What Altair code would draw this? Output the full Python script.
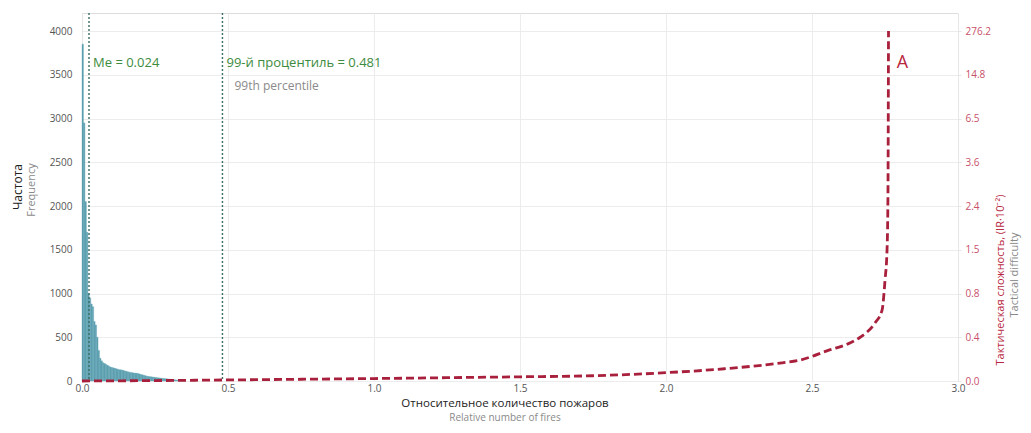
import altair as alt
import pandas as pd

# ---- histogram (bin width 0.005) ----
bin_width = 0.005
counts = [3850, 2950, 2050, 1700, 1000, 950, 880, 850, 680, 640,
          500, 350, 260, 230, 210, 200, 190, 180, 170, 160,
          155, 150, 145, 140, 135, 130, 128, 125, 120, 115,
          110, 105, 100, 98, 95, 92, 90, 88, 85, 80,
          75, 70, 65, 60, 55, 52, 50, 48, 45, 42,
          40, 38, 36, 34, 32, 30, 28, 26, 24, 22,
          20, 18, 16, 14, 12, 10, 9, 8, 7, 6, 5]
bin_starts = [round(i * bin_width, 3) for i in range(len(counts))]

# ---- tactical difficulty curve (in right-axis position units) ----
curve_x = [0.0, 0.25, 0.5, 0.75, 1.0, 1.25, 1.5, 1.75, 2.0, 2.2, 2.39, 2.46,
           2.56, 2.62, 2.665, 2.715, 2.74, 2.75, 2.757, 2.76, 2.762]
curve_y = [0, 5, 12, 20, 28, 38, 48, 60, 95, 140, 205, 240,
           355, 420, 500, 660, 810, 1150, 1500, 2070, 4000]

# ---- markers ----
median_x = 0.024
p99_x = 0.481

left_ticks = [0, 500, 1000, 1500, 2000, 2500, 3000, 3500, 4000]
right_labels = ["0.0", "0.4", "0.8", "1.5", "2.4", "3.6", "6.5", "14.8", "276.2"]
x_ticks = [0.0, 0.5, 1.0, 1.5, 2.0, 2.5, 3.0]

FONT = "Open Sans"
W, H = 876, 368
YMAX = 4206
GREEN = "#3d8b40"
RED = "#b8283f"
RED_LIGHT = "#c8506a"
GRAY = "#8a8a8a"

hist_df = pd.DataFrame({"x": bin_starts,
                        "x2": [b + bin_width for b in bin_starts],
                        "count": counts})
curve_df = pd.DataFrame({"x": curve_x, "y": curve_y})
vline_df = pd.DataFrame({"x": [median_x, p99_x]})

xscale = alt.Scale(domain=[0, 3], nice=False, zero=False, padding=0)
yscale = alt.Scale(domain=[0, YMAX], nice=False, padding=0)

x_axis = alt.Axis(values=x_ticks, format=".1f", title=None, labelColor="#555",
                  labelFontSize=10, labelFont=FONT, grid=True, gridColor="#ececec",
                  domain=False, ticks=False, labelPadding=2, labelFlush=False)

hist = alt.Chart(hist_df).mark_bar(color="#4a93a6", opacity=0.9,
                                   stroke="#5fa6b6", strokeWidth=0.4,
                                   orient="vertical").encode(
    x=alt.X("x:Q", scale=xscale, axis=x_axis),
    x2="x2:Q",
    y=alt.Y("count:Q", scale=yscale, stack=None,
            axis=alt.Axis(values=left_ticks, format="d", title=None, labelColor="#555",
                          labelFontSize=10, labelFont=FONT, grid=True,
                          gridColor="#ececec", domainColor="#e6e6e6",
                          ticks=False, labelPadding=10, labelFlush=False)),
    y2=alt.datum(0),
)

vlines = alt.Chart(vline_df).mark_rule(color="#3b6e66", strokeDash=[2, 2],
                                       strokeWidth=1.4).encode(
    x=alt.X("x:Q", scale=xscale),
)

ann_df = pd.DataFrame({
    "x": [median_x, p99_x],
    "y": [3634, 3634],
    "t": ["Me = 0.024", "99-й процентиль = 0.481"],
})
ann = alt.Chart(ann_df).mark_text(align="left", baseline="middle", dx=4,
                                  fontSize=13, font=FONT, color=GREEN).encode(
    x=alt.X("x:Q", scale=xscale), y=alt.Y("y:Q", scale=yscale), text="t:N")

ann2 = alt.Chart(pd.DataFrame({"x": [p99_x], "y": [3371], "t": ["99th percentile"]})).mark_text(
    align="left", baseline="middle", dx=12, fontSize=12, font=FONT, color=GRAY).encode(
    x=alt.X("x:Q", scale=xscale), y=alt.Y("y:Q", scale=yscale), text="t:N")

left_layer = alt.layer(hist, vlines, ann, ann2)

label_expr = "[" + ",".join("'%s'" % s for s in right_labels) + "][round(datum.value/500)]"

curve = alt.Chart(curve_df).mark_line(color="#a8203c", strokeDash=[8, 4],
                                      strokeWidth=2.8, interpolate="monotone").encode(
    x=alt.X("x:Q", scale=xscale),
    y=alt.Y("y:Q", scale=yscale,
            axis=alt.Axis(orient="right", values=left_ticks, labelExpr=label_expr,
                          title=None, labelColor=RED_LIGHT, labelFontSize=10,
                          labelFont=FONT, grid=False, domainColor="#e6e6e6",
                          tickColor="#e6e6e6", tickSize=3, labelPadding=4,
                          labelFlush=False)),
)

a_lbl = alt.Chart(pd.DataFrame({"x": [2.79], "y": [3634], "t": ["A"]})).mark_text(
    align="left", baseline="middle", fontSize=18, font=FONT, color=RED).encode(
    x=alt.X("x:Q", scale=xscale), y=alt.Y("y:Q", scale=yscale), text="t:N")

right_layer = alt.layer(curve, a_lbl)

# axis titles (two-colour, two-line) as text marks
def txt(t, x, y, size, color, angle=0, weight="normal"):
    return alt.Chart(pd.DataFrame({"t": [t]})).mark_text(
        align="center", baseline="middle", fontSize=size, font=FONT, color=color,
        angle=angle, fontWeight=weight).encode(
        x=alt.value(x), y=alt.value(y), text="t:N")

titles = alt.layer(
    txt("Частота", -64, 174, 12, "#222", angle=270),
    txt("Frequency", -50, 177, 11, GRAY, angle=270),
    txt("Тактическая сложность, (IR·10⁻²)", 919, 267, 11, RED, angle=270),
    txt("Tactical difficulty", 933, 262, 11, GRAY, angle=270),
    txt("Относительное количество пожаров", 423, 391, 11.5, "#222"),
    txt("Relative number of fires", 423, 405, 10, GRAY),
)

chart = alt.layer(left_layer, right_layer, titles).resolve_scale(y="independent").properties(
    width=W, height=H,
    autosize=alt.AutoSizeParams(type="none"),
    padding={"left": 74, "top": 5, "right": 65, "bottom": 43},
).configure_view(stroke=None).configure(background="white")

chart.save("out.html", embed_options={"renderer": "svg", "actions": False})
